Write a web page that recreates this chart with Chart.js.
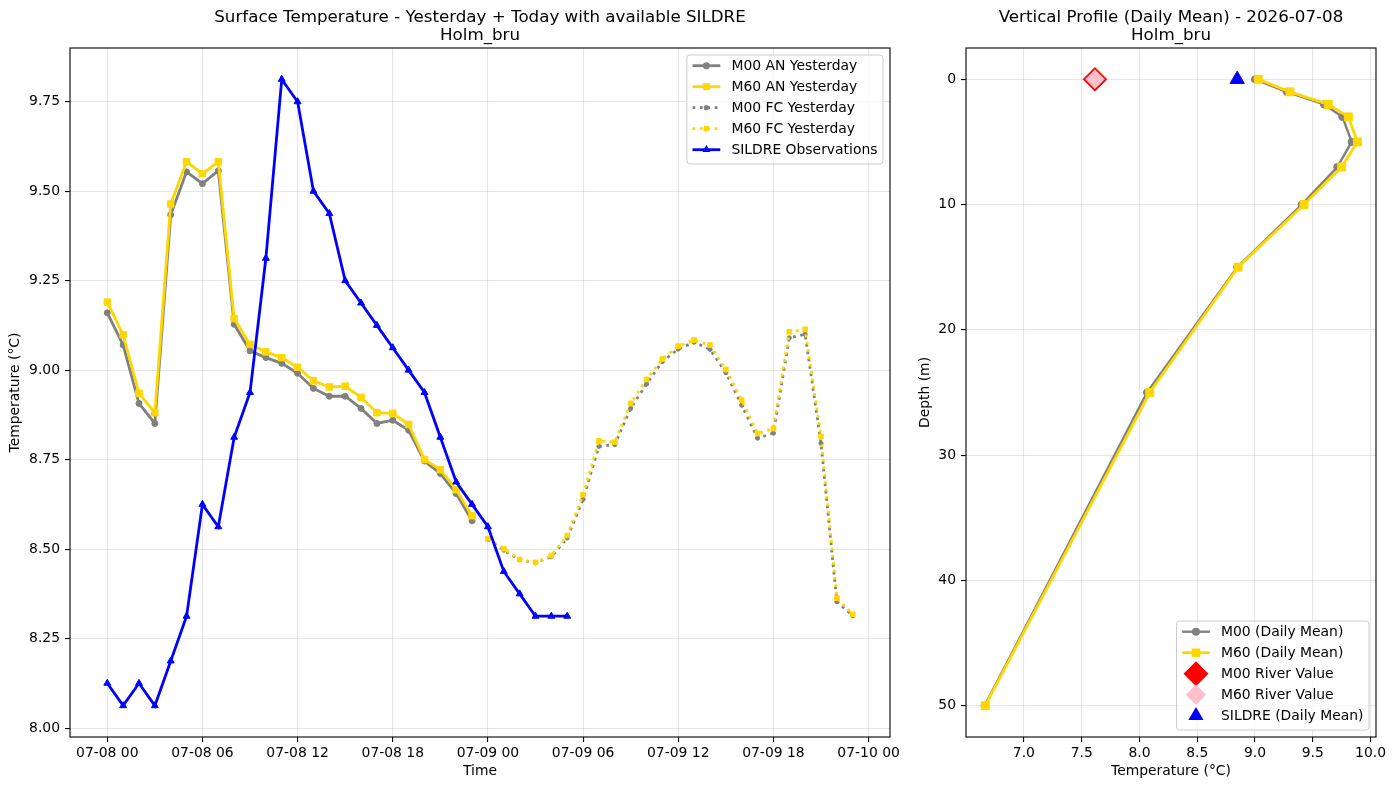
<!DOCTYPE html>
<html>
<head>
<meta charset="utf-8">
<script src="https://cdn.jsdelivr.net/npm/chart.js"></script>
<style>
  html, body { margin: 0; padding: 0; background: #fff; }
  #wrap { position: relative; width: 1395px; height: 790px; overflow: hidden; }
  #surface { position: absolute; left: 0; top: 0; }
  #profile { position: absolute; left: 900px; top: 0; }
</style>
</head>
<body>
<div id="wrap">
  <canvas id="surface" width="900" height="790"></canvas>
  <canvas id="profile" width="495" height="790"></canvas>
</div>
<script>
// hours after 2026-07-08 00:00
const anHours = [0, 1, 2, 3, 4, 5, 6, 7, 8, 9, 10, 11, 12, 13, 14, 15, 16, 17, 18, 19, 20, 21, 22, 23];
const fcHours = [24, 25, 26, 27, 28, 29, 30, 31, 32, 33, 34, 35, 36, 37, 38, 39, 40, 41, 42, 43, 44, 45, 46, 47];
const obsHours = [0, 1, 2, 3, 4, 5, 6, 7, 8, 9, 10, 11, 12, 13, 14, 15, 16, 17, 18, 19, 20, 21, 22, 23, 24, 25, 26, 27, 28, 29];

const timeTicks = [0, 6, 12, 18, 24, 30, 36, 42, 48];
const timeTickLabels = ['07-08 00', '07-08 06', '07-08 12', '07-08 18', '07-09 00', '07-09 06', '07-09 12', '07-09 18', '07-10 00'];
const surfTempTicks = [8.0, 8.25, 8.5, 8.75, 9.0, 9.25, 9.5, 9.75];

const m00An = [9.16, 9.07, 8.907, 8.851, 9.434, 9.554, 9.521, 9.557, 9.128, 9.054, 9.035, 9.019,
  8.991, 8.949, 8.927, 8.927, 8.893, 8.851, 8.86, 8.832, 8.746, 8.711, 8.655, 8.579];
const m60An = [9.19, 9.099, 8.935, 8.881, 9.464, 9.582, 9.549, 9.582, 9.144, 9.072, 9.051, 9.035,
  9.008, 8.97, 8.953, 8.955, 8.924, 8.881, 8.879, 8.848, 8.75, 8.722, 8.666, 8.593];
const m00Fc = [8.527, 8.497, 8.47, 8.462, 8.479, 8.531, 8.639, 8.787, 8.792, 8.893, 8.961, 9.024,
  9.059, 9.078, 9.058, 8.993, 8.902, 8.81, 8.824, 9.09, 9.1, 8.795, 8.353, 8.314];
const m60Fc = [8.529, 8.501, 8.471, 8.463, 8.482, 8.538, 8.652, 8.802, 8.799, 8.907, 8.974, 9.031,
  9.067, 9.084, 9.07, 9.002, 8.916, 8.823, 8.837, 9.107, 9.114, 8.815, 8.363, 8.318];
const sildreObs = [8.125, 8.0625, 8.125, 8.0625, 8.1875, 8.3125, 8.625, 8.5625, 8.8125, 8.9375,
  9.3125, 9.8125, 9.75, 9.5, 9.4375, 9.25, 9.1875, 9.125, 9.0625, 9.0, 8.9375, 8.8125, 8.6875,
  8.625, 8.5625, 8.4375, 8.375, 8.3125, 8.3125, 8.3125];

// vertical profile
const depths = [0, 1, 2, 3, 5, 7, 10, 15, 25, 50];
const m00Profile = [9.0, 9.274, 9.597, 9.756, 9.837, 9.712, 9.404, 8.846, 8.066, 6.66];
const m60Profile = [9.028, 9.302, 9.634, 9.808, 9.886, 9.75, 9.424, 8.854, 8.089, 6.666];
const m00River = [7.615];
const m60River = [7.615];
const sildreMean = [8.846];
const riverDepth = [0];
const depthTicks = [0, 10, 20, 30, 40, 50];
const profTempTicks = [7.0, 7.5, 8.0, 8.5, 9.0, 9.5, 10.0];

const FONT = 'DejaVu Sans';
const FS = 13.9;
const gridColor = 'rgba(176,176,176,0.3)';
const GRAY = '#808080', GOLD = '#FFD700', BLUE = '#0000FF';

Chart.defaults.font.family = FONT;
Chart.defaults.color = '#000';

const pts = (xs, ys) => xs.map((x, i) => ({ x: x, y: ys[i] }));

function drawMarker(ctx, m, x, y) {
  ctx.save();
  ctx.fillStyle = m.fill;
  ctx.strokeStyle = m.stroke || m.fill;
  ctx.lineWidth = m.bw || 0;
  ctx.beginPath();
  const r = m.r;
  if (m.style === 'circle') {
    ctx.arc(x, y, r, 0, Math.PI * 2);
  } else if (m.style === 'rect') {
    const s = r * Math.SQRT1_2;
    ctx.rect(x - s, y - s, 2 * s, 2 * s);
  } else if (m.style === 'triangle') {
    ctx.moveTo(x, y - r);
    ctx.lineTo(x + r * 0.866, y + r * 0.5);
    ctx.lineTo(x - r * 0.866, y + r * 0.5);
    ctx.closePath();
  } else if (m.style === 'rectRot') {
    ctx.moveTo(x - r, y); ctx.lineTo(x, y - r); ctx.lineTo(x + r, y); ctx.lineTo(x, y + r);
    ctx.closePath();
  }
  ctx.fill();
  if (m.bw) ctx.stroke();
  ctx.restore();
}

const mplPlugin = {
  id: 'mpl',
  afterDatasetsDraw(chart, args, opts) {
    const { ctx, chartArea: a } = chart;
    ctx.save();
    ctx.strokeStyle = '#000';
    ctx.lineWidth = 1.1;
    ctx.strokeRect(a.left, a.top, a.right - a.left, a.bottom - a.top);
    ctx.restore();
  },
  afterDraw(chart, args, opts) {
    const { ctx, chartArea: a } = chart;
    ctx.save();
    // title
    ctx.fillStyle = '#000';
    ctx.textAlign = 'center';
    ctx.textBaseline = 'alphabetic';
    ctx.font = '16.7px "' + FONT + '"';
    const cx = (a.left + a.right) / 2;
    opts.title.forEach((t, i) => ctx.fillText(t, cx, 22 + i * 17.5));

    // legend
    const items = opts.legend;
    ctx.font = FS + 'px "' + FONT + '"';
    const textW = Math.max(...items.map(it => ctx.measureText(it.label).width));
    const pad = 0.4 * FS, handle = 2 * FS, gap = 0.8 * FS, row = 21;
    const w = pad * 2 + handle + gap + textW;
    const h = items.length * row + 4;
    const x0 = a.right - 7 - w;
    const y0 = opts.legendPos === 'lower right' ? a.bottom - 7 - h : a.top + 7;
    ctx.beginPath();
    ctx.roundRect(x0, y0, w, h, 3);
    ctx.fillStyle = 'rgba(255,255,255,0.8)';
    ctx.fill();
    ctx.strokeStyle = '#cccccc';
    ctx.lineWidth = 1;
    ctx.stroke();
    items.forEach((it, i) => {
      const cy = y0 + 10.7 + i * row;
      const hx = x0 + pad;
      if (it.line) {
        ctx.save();
        ctx.strokeStyle = it.color;
        ctx.lineWidth = it.width;
        ctx.setLineDash(it.dash || []);
        ctx.beginPath();
        ctx.moveTo(hx, cy);
        ctx.lineTo(hx + handle, cy);
        ctx.stroke();
        ctx.restore();
      }
      drawMarker(ctx, it.marker, hx + handle / 2, cy);
      ctx.fillStyle = '#000';
      ctx.textAlign = 'left';
      ctx.textBaseline = 'middle';
      ctx.fillText(it.label, hx + handle + gap, cy + 1);
    });
    ctx.restore();
  }
};

function fixedTicks(list) {
  return scale => { scale.ticks = list.map(v => ({ value: v })); };
}

function axisBase(extra) {
  return Object.assign({
    type: 'linear',
    grid: { color: gridColor, lineWidth: 1.1, tickColor: '#000', tickLength: 5, tickWidth: 1.1 },
    border: { display: false },
  }, extra);
}

// fixed axis box sizes so the plot areas land where the reference has them
function fixHeight(h) {
  return s => { s.height = h; s.paddingLeft = 0; s.paddingRight = 0; };
}
function fixWidth(w) {
  return s => { s.width = w; s.paddingTop = 0; s.paddingBottom = 0; };
}

// ---- left: surface temperature time series
const dotted = [2.8, 4.6];
new Chart(document.getElementById('surface'), {
  type: 'line',
  data: {
    datasets: [
      { label: 'M00 AN Yesterday', data: pts(anHours, m00An), borderColor: GRAY, borderWidth: 2.8,
        pointStyle: 'circle', pointRadius: 3, pointBackgroundColor: GRAY, pointBorderColor: GRAY, pointBorderWidth: 1, order: 5 },
      { label: 'M60 AN Yesterday', data: pts(anHours, m60An), borderColor: GOLD, borderWidth: 2.8,
        pointStyle: 'rect', pointRadius: 4.6, pointBackgroundColor: GOLD, pointBorderColor: GOLD, pointBorderWidth: 1, order: 4 },
      { label: 'M00 FC Yesterday', data: pts(fcHours, m00Fc), borderColor: GRAY, borderWidth: 2.8, borderDash: dotted,
        pointStyle: 'circle', pointRadius: 2.1, pointBackgroundColor: GRAY, pointBorderColor: GRAY, pointBorderWidth: 1, order: 3 },
      { label: 'M60 FC Yesterday', data: pts(fcHours, m60Fc), borderColor: GOLD, borderWidth: 2.8, borderDash: dotted,
        pointStyle: 'rect', pointRadius: 3.3, pointBackgroundColor: GOLD, pointBorderColor: GOLD, pointBorderWidth: 1, order: 2 },
      { label: 'SILDRE Observations', data: pts(obsHours, sildreObs), borderColor: BLUE, borderWidth: 2.8,
        pointStyle: 'triangle', pointRadius: 4, pointBackgroundColor: BLUE, pointBorderColor: BLUE, pointBorderWidth: 1, order: 1 }
    ]
  },
  options: {
    responsive: false,
    animation: false,
    devicePixelRatio: 1,
    events: [],
    layout: { padding: { top: 48, right: 10, bottom: 0, left: 0 } },
    plugins: {
      legend: { display: false },
      tooltip: { enabled: false },
      mpl: {
        title: ['Surface Temperature - Yesterday + Today with available SILDRE', 'Holm_bru'],
        legendPos: 'upper right',
        legend: [
          { label: 'M00 AN Yesterday', line: true, color: GRAY, width: 2.8, marker: { style: 'circle', r: 3.5, fill: GRAY } },
          { label: 'M60 AN Yesterday', line: true, color: GOLD, width: 2.8, marker: { style: 'rect', r: 5, fill: GOLD } },
          { label: 'M00 FC Yesterday', line: true, color: GRAY, width: 2.8, dash: dotted, marker: { style: 'circle', r: 2.6, fill: GRAY } },
          { label: 'M60 FC Yesterday', line: true, color: GOLD, width: 2.8, dash: dotted, marker: { style: 'rect', r: 3.8, fill: GOLD } },
          { label: 'SILDRE Observations', line: true, color: BLUE, width: 2.8, marker: { style: 'triangle', r: 4.6, fill: BLUE } }
        ]
      }
    },
    scales: {
      x: axisBase({
        min: -2.35, max: 49.35,
        afterBuildTicks: fixedTicks(timeTicks),
        afterFit: fixHeight(53),
        ticks: { font: { size: FS }, padding: 3, maxRotation: 0, autoSkip: false,
          callback: (v, i) => timeTickLabels[i] },
        title: { display: true, text: 'Time', font: { size: FS }, padding: { top: 0, bottom: 10 } }
      }),
      y: axisBase({
        min: 7.975, max: 9.9,
        afterBuildTicks: fixedTicks(surfTempTicks),
        afterFit: fixWidth(70),
        ticks: { font: { size: FS }, padding: 5, callback: v => v.toFixed(2) },
        title: { display: true, text: 'Temperature (°C)', font: { size: FS }, padding: { top: 7.5, bottom: 0 } }
      })
    }
  },
  plugins: [mplPlugin]
});

// ---- right: vertical profile
new Chart(document.getElementById('profile'), {
  type: 'line',
  data: {
    datasets: [
      { label: 'M00 (Daily Mean)', data: pts(m00Profile, depths), borderColor: GRAY, borderWidth: 2.4,
        pointStyle: 'circle', pointRadius: 3.6, pointBackgroundColor: GRAY, pointBorderColor: GRAY, pointBorderWidth: 1, order: 5 },
      { label: 'M60 (Daily Mean)', data: pts(m60Profile, depths), borderColor: GOLD, borderWidth: 2.8,
        pointStyle: 'rect', pointRadius: 5.6, pointBackgroundColor: GOLD, pointBorderColor: GOLD, pointBorderWidth: 1, order: 4 },
      { label: 'M00 River Value', data: pts(m00River, riverDepth), showLine: false,
        pointStyle: 'rectRot', pointRadius: 11.8, pointBackgroundColor: 'red', pointBorderColor: 'red', pointBorderWidth: 1, order: 3 },
      { label: 'M60 River Value', data: pts(m60River, riverDepth), showLine: false,
        pointStyle: 'rectRot', pointRadius: 9.8, pointBackgroundColor: 'pink', pointBorderColor: 'pink', pointBorderWidth: 0, order: 2 },
      { label: 'SILDRE (Daily Mean)', data: pts(sildreMean, riverDepth), showLine: false,
        pointStyle: 'triangle', pointRadius: 8.2, pointBackgroundColor: BLUE, pointBorderColor: BLUE, pointBorderWidth: 1, order: 1 }
    ]
  },
  options: {
    responsive: false,
    animation: false,
    devicePixelRatio: 1,
    events: [],
    layout: { padding: { top: 48, right: 19, bottom: 0, left: 0 } },
    plugins: {
      legend: { display: false },
      tooltip: { enabled: false },
      mpl: {
        title: ['Vertical Profile (Daily Mean) - 2026-07-08', 'Holm_bru'],
        legendPos: 'lower right',
        legend: [
          { label: 'M00 (Daily Mean)', line: true, color: GRAY, width: 2.4, marker: { style: 'circle', r: 4, fill: GRAY } },
          { label: 'M60 (Daily Mean)', line: true, color: GOLD, width: 2.8, marker: { style: 'rect', r: 6, fill: GOLD } },
          { label: 'M00 River Value', marker: { style: 'rectRot', r: 12.5, fill: 'red' } },
          { label: 'M60 River Value', marker: { style: 'rectRot', r: 10.2, fill: 'pink' } },
          { label: 'SILDRE (Daily Mean)', marker: { style: 'triangle', r: 8.8, fill: BLUE } }
        ]
      }
    },
    scales: {
      x: axisBase({
        min: 6.499, max: 10.047,
        afterBuildTicks: fixedTicks(profTempTicks),
        afterFit: fixHeight(53),
        ticks: { font: { size: FS }, padding: 3, maxRotation: 0, autoSkip: false, callback: v => v.toFixed(1) },
        title: { display: true, text: 'Temperature (°C)', font: { size: FS }, padding: { top: 0, bottom: 10 } }
      }),
      y: axisBase({
        min: -2.5, max: 52.5, reverse: true,
        afterBuildTicks: fixedTicks(depthTicks),
        afterFit: fixWidth(66),
        ticks: { font: { size: FS }, padding: 5, callback: v => String(v) },
        title: { display: true, text: 'Depth (m)', font: { size: FS }, padding: { top: 17, bottom: 0 } }
      })
    }
  },
  plugins: [mplPlugin]
});
</script>
</body>
</html>
